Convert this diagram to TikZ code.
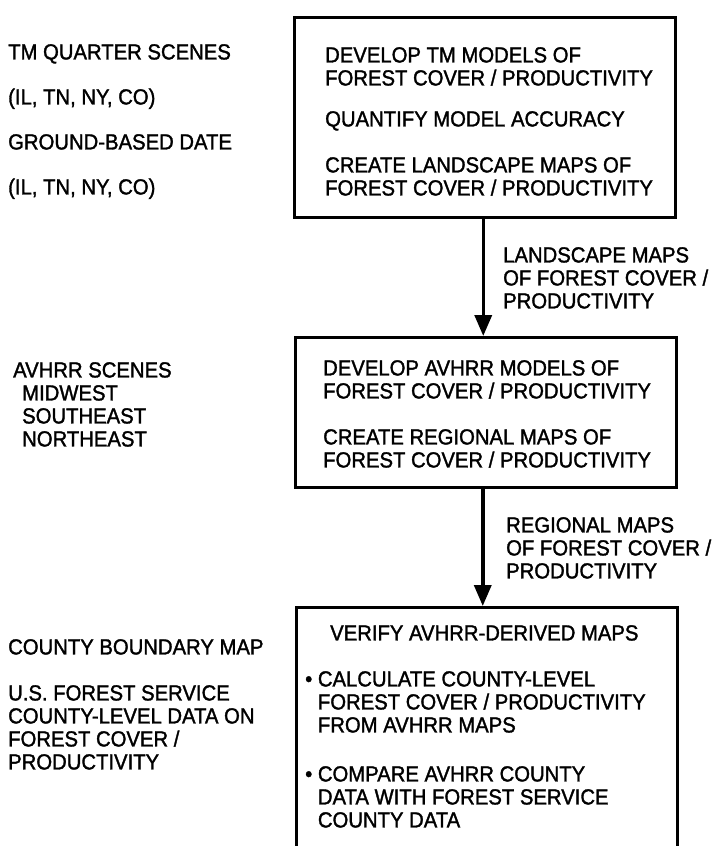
\documentclass[tikz,border=0pt]{standalone}
\usepackage{fontspec}
\setmainfont{Liberation Sans}[FakeStretch=0.93, FakeBold=1.5]
\usetikzlibrary{arrows.meta}

\begin{document}
\begin{tikzpicture}[
    x=1pt, y=-1pt,
    % Styles
    box/.style={
        rectangle, draw=black, line width=2.5pt,
        minimum width=381pt, anchor=north west, inner sep=0pt
    },
    txt/.style={
        anchor=north west, align=left, inner sep=0pt,
        font=\fontsize{21.8pt}{23pt}\selectfont
    },
    arrow/.style={-{Triangle[length=21pt, width=17pt]}, line width=3.5pt}
]
\useasboundingbox (0,0) rectangle (712,846);

% === BOXES (right column) ===
\node (tmbox) [box, minimum height=200pt] at (293,16) {};
\node (avhrrbox) [box, minimum height=150pt] at (294,336) {};
\node (countybox) [box, minimum height=256pt] at (295,606) {};

% === BOX TEXTS ===
\node (tmtext) [txt] at (325,47) {DEVELOP TM MODELS OF\\
    FOREST COVER / PRODUCTIVITY\\[18pt]
    QUANTIFY MODEL ACCURACY\\[23pt]
    CREATE LANDSCAPE MAPS OF\\
    FOREST COVER / PRODUCTIVITY};
\node (avhrrtext) [txt] at (323,360) {DEVELOP AVHRR MODELS OF\\
    FOREST COVER / PRODUCTIVITY\\[23pt]
    CREATE REGIONAL MAPS OF\\
    FOREST COVER / PRODUCTIVITY};
\node (countytext) [txt] at (305,625) {\hspace*{25pt}VERIFY AVHRR-DERIVED MAPS\\[23pt]
    • CALCULATE COUNTY-LEVEL\\
    \hphantom{• }FOREST COVER / PRODUCTIVITY\\
    \hphantom{• }FROM AVHRR MAPS\\[26pt]
    • COMPARE AVHRR COUNTY\\
    \hphantom{• }DATA WITH FOREST SERVICE\\
    \hphantom{• }COUNTY DATA};

% === INPUTS (left column) ===
\node (tminput) [txt] at (8,44) {TM QUARTER SCENES\\[22pt]
    (IL, TN, NY, CO)\\[22pt]
    GROUND-BASED DATE\\[22pt]
    (IL, TN, NY, CO)};
\node (avhrrinput) [txt] at (13,362) {AVHRR SCENES\\
    \hspace*{9pt}MIDWEST\\
    \hspace*{9pt}SOUTHEAST\\
    \hspace*{9pt}NORTHEAST};
\node (countyinput) [txt] at (8,639) {COUNTY BOUNDARY MAP\\[23pt]
    U.S. FOREST SERVICE\\
    COUNTY-LEVEL DATA ON\\
    FOREST COVER /\\
    PRODUCTIVITY};

% === ARROW LABELS ===
\node (landlbl) [txt] at (503,247) {LANDSCAPE MAPS\\
    OF FOREST COVER /\\
    PRODUCTIVITY};
\node (reglbl) [txt] at (506,517) {REGIONAL MAPS\\
    OF FOREST COVER /\\
    PRODUCTIVITY};

% === ARROWS ===
\draw [arrow] ([xshift=-1.5pt]tmbox.south) -- ([xshift=-1.5pt]tmbox.south |- avhrrbox.north);
\draw [arrow] ([xshift=-3pt]avhrrbox.south) -- ([xshift=-3pt]avhrrbox.south |- countybox.north);

\end{tikzpicture}
\end{document}
